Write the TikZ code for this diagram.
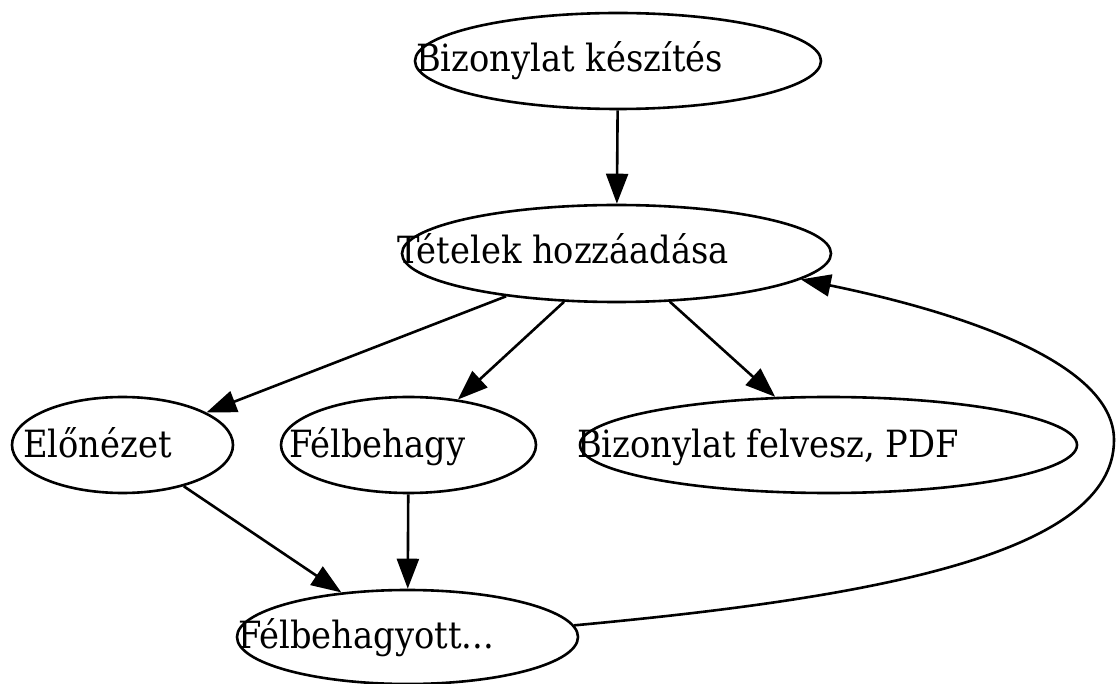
\documentclass[tikz,border=0pt]{standalone}
\usepackage{fontspec}
\setmainfont{DejaVu Serif Condensed}
\usetikzlibrary{shapes.geometric,arrows.meta}
\begin{document}
\begin{tikzpicture}[x=1pt,y=-1pt,
  ell/.style={draw=black,line width=2.6pt,ellipse,inner sep=0pt},
  lbl/.style={anchor=base west,inner sep=0pt,font=\fontsize{37.5pt}{44pt}\selectfont},
  edge/.style={draw=black,line width=2.6pt,-{Triangle[length=30pt,width=22pt]}}]
\useasboundingbox (0,0) rectangle (1117,684);
\node[ell,minimum width=406pt,minimum height=96pt] (e1) at (618,61) {};
\node[ell,minimum width=429pt,minimum height=97pt] (e2) at (616.5,253.5) {};
\node[ell,minimum width=221pt,minimum height=96pt] (e3) at (122.5,445) {};
\node[ell,minimum width=255pt,minimum height=96pt] (e4) at (408.5,445) {};
\node[ell,minimum width=497pt,minimum height=96pt] (e5) at (828.5,445) {};
\node[ell,minimum width=341pt,minimum height=94pt] (e6) at (407.5,637) {};
\node[lbl] (t1) at (416,72) {Bizonylat készítés};
\node[lbl] (t2) at (397,264) {Tételek hozzáadása};
\node[lbl] (t3) at (23,457) {Előnézet};
\node[lbl] (t4) at (289,457) {Félbehagy};
\node[lbl] (t5) at (577,457) {Bizonylat felvesz, PDF};
\node[lbl] (t6) at (238,648) {Félbehagyott...};
\draw[edge] (e1) -- (e2);
\draw[edge] (e2) -- (e3);
\draw[edge] (e2) -- (e4);
\draw[edge] (e2) -- (e5);
\draw[edge] (e3) -- (e6);
\draw[edge] (e4) -- (e6);
\draw[edge] (e6.4) .. controls (870,598) and (1114,555) .. (1114,440)
  .. controls (1114,360) and (950,310) .. (e2.-8.4);
\end{tikzpicture}
\end{document}
